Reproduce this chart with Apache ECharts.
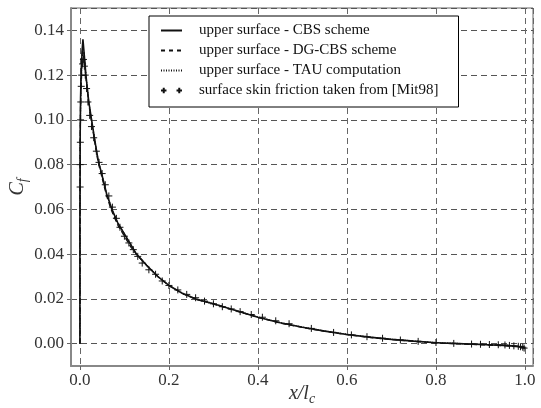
<!DOCTYPE html>
<html>
<head>
<meta charset="utf-8">
<script src="https://cdn.jsdelivr.net/npm/echarts@6/dist/echarts.min.js"></script>
<style>html,body{margin:0;padding:0;background:#fff}#c{width:541px;height:408px}</style>
</head>
<body>
<div id="c"></div>
<script>
// ---- data ----
var xTicks = ['0.0', '0.2', '0.4', '0.6', '0.8', '1.0'];
var yTicks = ['0.00', '0.02', '0.04', '0.06', '0.08', '0.10', '0.12', '0.14'];

var xCBS  = [0, 0, 0.0005, 0.0015, 0.003, 0.005, 0.0068, 0.009, 0.0135, 0.02, 0.027, 0.035, 0.041, 0.05, 0.06, 0.072, 0.085, 0.1, 0.115, 0.127, 0.15, 0.175, 0.2, 0.23, 0.262, 0.3, 0.35, 0.4, 0.45, 0.5, 0.55, 0.6, 0.65, 0.7, 0.75, 0.8, 0.85, 0.9, 0.95, 0.98, 1.0];
var cfCBS = [0, 0.05, 0.09, 0.11, 0.122, 0.131, 0.136, 0.131, 0.120, 0.108, 0.099, 0.089, 0.082, 0.075, 0.067, 0.060, 0.054, 0.049, 0.044, 0.040, 0.035, 0.030, 0.026, 0.0225, 0.0198, 0.0178, 0.0148, 0.0118, 0.0093, 0.0073, 0.0056, 0.0041, 0.0029, 0.0019, 0.0011, 0.0004, 0.0, -0.0004, -0.0008, -0.0012, -0.0018];

var xDG  = [0, 0, 0.0005, 0.0015, 0.003, 0.005, 0.007, 0.009, 0.0135, 0.02, 0.027, 0.035, 0.041, 0.05, 0.06, 0.072, 0.085, 0.1, 0.115, 0.127, 0.15, 0.175, 0.2, 0.23, 0.262, 0.3, 0.35, 0.4, 0.45, 0.5, 0.55, 0.6, 0.65, 0.7, 0.75, 0.8, 0.85, 0.9, 0.95, 0.98, 1.0];
var cfDG = [0, 0.05, 0.088, 0.108, 0.12, 0.129, 0.133, 0.130, 0.119, 0.107, 0.098, 0.088, 0.081, 0.074, 0.066, 0.059, 0.053, 0.048, 0.043, 0.040, 0.035, 0.030, 0.026, 0.0224, 0.0197, 0.0177, 0.0147, 0.0117, 0.0092, 0.0072, 0.0055, 0.0040, 0.0028, 0.0018, 0.0010, 0.0003, -0.0001, -0.0005, -0.0009, -0.0013, -0.0020];

var xTAU  = [0, 0, 0.0005, 0.0015, 0.003, 0.005, 0.0075, 0.0095, 0.014, 0.02, 0.027, 0.035, 0.041, 0.05, 0.06, 0.072, 0.085, 0.1, 0.115, 0.127, 0.15, 0.175, 0.2, 0.23, 0.262, 0.3, 0.35, 0.4, 0.45, 0.5, 0.55, 0.6, 0.65, 0.7, 0.75, 0.8, 0.85, 0.9, 0.95, 0.98, 1.0];
var cfTAU = [0, 0.045, 0.085, 0.105, 0.118, 0.127, 0.131, 0.129, 0.119, 0.108, 0.099, 0.089, 0.082, 0.075, 0.067, 0.060, 0.054, 0.049, 0.044, 0.040, 0.035, 0.030, 0.026, 0.0226, 0.0199, 0.0179, 0.0149, 0.0119, 0.0094, 0.0074, 0.0057, 0.0042, 0.0030, 0.0020, 0.0012, 0.0005, 0.0001, -0.0003, -0.0007, -0.0011, -0.0016];

var xMit  = [0.0005, 0.0008, 0.001, 0.0015, 0.002, 0.003, 0.004, 0.006, 0.008, 0.01, 0.012, 0.015, 0.018, 0.022, 0.026, 0.031, 0.037, 0.043, 0.05, 0.057, 0.065, 0.073, 0.082, 0.09, 0.1, 0.11, 0.12, 0.13, 0.14, 0.155, 0.17, 0.185, 0.2, 0.22, 0.24, 0.26, 0.28, 0.3, 0.32, 0.34, 0.36, 0.385, 0.41, 0.44, 0.47, 0.52, 0.57, 0.61, 0.645, 0.68, 0.72, 0.76, 0.8, 0.84, 0.88, 0.9, 0.92, 0.94, 0.955, 0.965, 0.975, 0.985, 0.99, 0.995, 0.998];
var cfMit = [0.07, 0.08, 0.09, 0.1, 0.108, 0.115, 0.12, 0.125, 0.127, 0.124, 0.12, 0.114, 0.108, 0.102, 0.097, 0.092, 0.086, 0.081, 0.076, 0.071, 0.066, 0.061, 0.056, 0.052, 0.048, 0.045, 0.042, 0.039, 0.036, 0.033, 0.031, 0.028, 0.026, 0.024, 0.022, 0.0205, 0.019, 0.0178, 0.0165, 0.0155, 0.0143, 0.013, 0.0118, 0.0102, 0.0089, 0.0068, 0.005, 0.0039, 0.0031, 0.0024, 0.0016, 0.001, 0.0005, 0.0001, -0.0002, -0.0003, -0.0004, -0.0005, -0.0006, -0.0008, -0.001, -0.0012, -0.0014, -0.0016, -0.002];

var seriesNames = ['upper surface - CBS scheme', 'upper surface - DG-CBS scheme', 'upper surface - TAU computation', 'surface skin friction taken from [Mit98]'];

function pairs(xs, ys) { return xs.map(function (x, i) { return [x, ys[i]]; }); }

var FONT = 'Liberation Serif';
var hideSym = { color: 'rgba(0,0,0,0)', borderColor: 'rgba(0,0,0,0)', borderWidth: 0 };
var chart = echarts.init(document.getElementById('c'), null, { renderer: 'canvas' });
chart.setOption({
  animation: false,
  backgroundColor: '#fff',
  textStyle: { fontFamily: FONT },
  grid: { left: 71, right: 8, top: 8, bottom: 42, show: true, borderColor: '#666', borderWidth: 1, outerBoundsMode: 'none' },
  legend: {
    orient: 'vertical', left: 149, top: 16,
    padding: [7, 20, 9, 11],
    backgroundColor: '#fff', borderColor: '#000', borderWidth: 1, borderRadius: 0,
    itemWidth: 21, itemHeight: 8, itemGap: 5,
    data: [
      { name: seriesNames[0], itemStyle: hideSym },
      { name: seriesNames[1], itemStyle: hideSym, lineStyle: { type: [4, 4] } },
      { name: seriesNames[2], itemStyle: hideSym },
      { name: seriesNames[3], icon: 'path://M0,4H6M3,1V7M17,4H23M20,1V7' }
    ],
    formatter: function (n) { return '{t|' + n + '}'; },
    textStyle: { fontFamily: FONT, fontSize: 15, color: '#111', rich: { t: { fontFamily: FONT, fontSize: 15, color: '#111', padding: [0, 0, 0, 12], lineHeight: 17 } } }
  },
  xAxis: {
    type: 'value', min: -0.02, max: 1.018, splitNumber: 5,
    name: '{a|x/l}{b|c}', nameLocation: 'middle', nameGap: 16, nameMoveOverlap: false,
    nameTextStyle: { rich: { a: { fontFamily: FONT, fontStyle: 'italic', fontSize: 20, color: '#333' }, b: { fontFamily: FONT, fontStyle: 'italic', fontSize: 14, color: '#333', padding: [10, 0, 0, 0] } } },
    axisLine: { show: true, onZero: false, lineStyle: { color: '#888', width: 2 } },
    axisTick: { show: true, length: 4, lineStyle: { color: '#666' } },
    axisLabel: {
      showMinLabel: false, showMaxLabel: false, margin: 6,
      fontFamily: FONT, fontSize: 17, color: '#333',
      formatter: function (v) { var s = v.toFixed(1); return xTicks.indexOf(s) >= 0 && Math.abs(v - parseFloat(s)) < 1e-6 ? s : ''; }
    },
    splitLine: { show: true, lineStyle: { color: '#666', type: [6, 4], width: 1 } }
  },
  yAxis: {
    type: 'value', min: -0.01, max: 0.15, splitNumber: 8,
    name: '{a|C}{b|f}', nameLocation: 'middle', nameGap: 41, nameRotate: 90, nameMoveOverlap: false,
    nameTextStyle: { rich: { a: { fontFamily: FONT, fontStyle: 'italic', fontSize: 20, color: '#333' }, b: { fontFamily: FONT, fontStyle: 'italic', fontSize: 14, color: '#333', padding: [10, 0, 0, 0] } } },
    axisLine: { show: true, onZero: false, lineStyle: { color: '#888', width: 2 } },
    axisTick: { show: true, length: 4, lineStyle: { color: '#666' } },
    axisLabel: {
      showMinLabel: false, showMaxLabel: false, margin: 7,
      fontFamily: FONT, fontSize: 17, color: '#333',
      formatter: function (v) { var s = v.toFixed(2); return yTicks.indexOf(s) >= 0 && Math.abs(v - parseFloat(s)) < 1e-6 ? s : ''; }
    },
    splitLine: { show: true, lineStyle: { color: '#555', type: [6, 4], width: 1 } }
  },
  series: [
    { name: seriesNames[0], type: 'line', data: pairs(xCBS, cfCBS), symbol: 'none', lineStyle: { color: '#111', width: 1.6, type: 'solid' }, itemStyle: { color: '#111' }, z: 5 },
    { name: seriesNames[1], type: 'line', data: pairs(xDG, cfDG), symbol: 'none', lineStyle: { color: '#111', width: 1.3, type: [5, 3] }, itemStyle: { color: '#111' }, z: 4 },
    { name: seriesNames[2], type: 'line', data: pairs(xTAU, cfTAU), symbol: 'none', lineStyle: { color: '#111', width: 1.2, type: [1, 1.5] }, itemStyle: { color: '#111' }, z: 3 },
    { name: seriesNames[3], type: 'scatter', data: pairs(xMit, cfMit), symbol: 'path://M0,5H10M5,0V10', symbolSize: 7,
      itemStyle: { color: 'transparent', borderColor: '#111', borderWidth: 1, opacity: 1 }, z: 6 }
  ]
});
</script>
</body>
</html>
